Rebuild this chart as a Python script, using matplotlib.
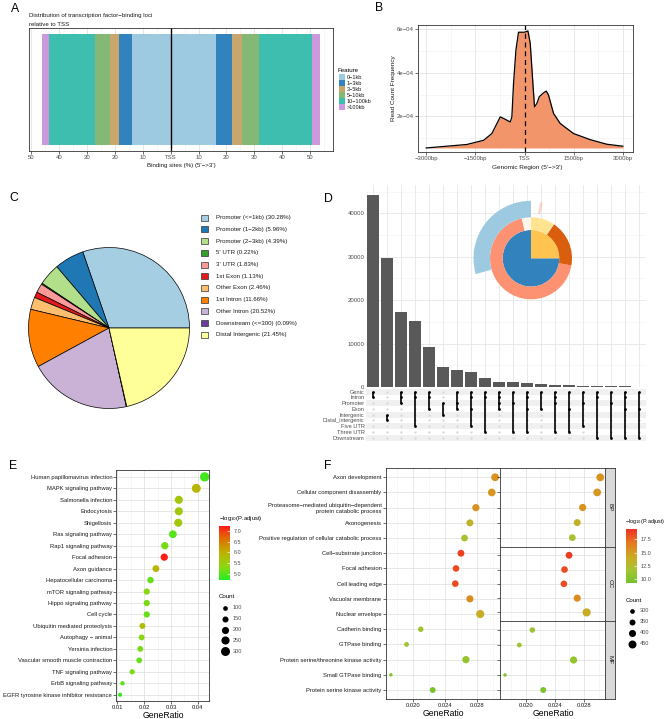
import numpy as np
import matplotlib
matplotlib.use('Agg')
import matplotlib.pyplot as plt
from matplotlib.patches import Rectangle, Wedge
from matplotlib.colors import LinearSegmentedColormap, Normalize
from matplotlib.cm import ScalarMappable

plt.rcParams['font.family'] = ['Liberation Sans', 'DejaVu Sans']

# ---------------- data ----------------
# A: distribution of binding loci relative to TSS (%)
feat_labels = ['0−1kb', '1−3kb', '3−5kb', '5−10kb', '10−100kb', '>100kb']
feat_colors = ['#9ECAE1', '#3182BD', '#C9A66B', '#86B875', '#3DBEAF', '#CC99DD']
upstream_pct = [13.8, 4.7, 3.1, 5.5, 16.5, 2.4]
downstream_pct = [16.2, 5.7, 3.5, 6.1, 19.0, 3.0]

# B: average profile around TSS
prof_bp = [-3000, -1757, -1250, -995, -842, -741, -640, -436, -386, -335, -262, -183,
           0, 104, 174, 256, 305, 378, 448, 580, 663, 732, 885, 1089, 1495, 2004, 2513, 3000]
prof_freq = [5.6e-5, 7.2e-5, 9.1e-5, 1.22e-4, 1.68e-4, 1.98e-4, 1.91e-4, 1.75e-4, 1.98e-4,
             3.51e-4, 5.04e-4, 5.85e-4, 5.85e-4, 5.91e-4, 5.35e-4, 3.51e-4, 2.44e-4, 2.6e-4,
             2.9e-4, 3.08e-4, 3.16e-4, 2.98e-4, 2.14e-4, 1.68e-4, 1.22e-4, 9.4e-5, 7.3e-5, 6.4e-5]

# C: genomic annotation pie
anno_labels = ['Promoter (<=1kb)', 'Promoter (1−2kb)', 'Promoter (2−3kb)', "5' UTR", "3' UTR",
               '1st Exon', 'Other Exon', '1st Intron', 'Other Intron', 'Downstream (<=300)',
               'Distal Intergenic']
anno_pct = [30.28, 5.96, 4.39, 0.22, 1.83, 1.13, 2.46, 11.66, 20.52, 0.09, 21.45]
anno_colors = ['#A6CEE3', '#1F78B4', '#B2DF8A', '#33A02C', '#FB9A99', '#E31A1C',
               '#FDBF6F', '#FF7F00', '#CAB2D6', '#6A3D9A', '#FFFF99']

# D: upset plot
set_rows = ['Genic', 'Intron', 'Promoter', 'Exon', 'Intergenic', 'Distal_intergenic',
            'Five UTR', 'Three UTR', 'Downstream']
set_sizes = [44300, 29650, 17350, 15280, 9150, 4680, 3920, 3460, 2050, 1220,
             1200, 850, 800, 460, 440, 230, 200, 180, 150, 100]
set_members = [[0, 1], [4, 5], [0, 1, 2], [0, 1, 6], [0, 1, 3], [2, 4], [0, 2, 3],
               [0, 1, 3, 6], [0, 1, 7], [0, 1, 2, 3], [0, 2, 7], [0, 1, 3, 7], [0, 3],
               [0, 1, 2, 7], [0, 3, 7], [0, 2, 6], [0, 1, 8], [0, 2, 8], [0, 1, 3, 8], [0, 3, 8]]
venn_labels = ['Genic', 'Intergenic', 'Intron', 'Exon', 'Upstream', 'Downstream', 'Distal Intergenic']
venn_colors = ['#3182BD', '#FEC44F', '#FC9272', '#9ECAE1', '#FEE391', '#FFF5EB', '#D95F0E']

# E: KEGG enrichment
kegg_terms = ['Human papillomavirus infection', 'MAPK signaling pathway', 'Salmonella infection',
              'Endocytosis', 'Shigellosis', 'Ras signaling pathway', 'Rap1 signaling pathway',
              'Focal adhesion', 'Axon guidance', 'Hepatocellular carcinoma', 'mTOR signaling pathway',
              'Hippo signaling pathway', 'Cell cycle', 'Ubiquitin mediated proteolysis',
              'Autophagy − animal', 'Yersinia infection', 'Vascular smooth muscle contraction',
              'TNF signaling pathway', 'ErbB signaling pathway',
              'EGFR tyrosine kinase inhibitor resistance']
kegg_ratio = [0.0425, 0.0394, 0.0329, 0.0329, 0.0327, 0.0307, 0.0277, 0.0275, 0.0244, 0.0224,
              0.0210, 0.0210, 0.0210, 0.0194, 0.0191, 0.0186, 0.0182, 0.0156, 0.0120, 0.0111]
kegg_count = [320, 295, 247, 247, 245, 230, 208, 206, 183, 168, 158, 158, 158, 146, 143, 140,
              137, 117, 90, 83]
kegg_logp = [4.9, 5.9, 5.6, 5.6, 5.6, 5.0, 5.2, 7.2, 5.9, 5.1, 5.3, 5.2, 5.1, 5.8, 5.3, 5.2,
             5.1, 5.2, 5.0, 4.8]

# F: GO enrichment
go_terms = ['Axon development', 'Cellular component disassembly',
            'Proteasome−mediated ubiquitin−dependent\nprotein catabolic process', 'Axonogenesis',
            'Positive regulation of cellular catabolic process', 'Cell−substrate junction',
            'Focal adhesion', 'Cell leading edge', 'Vacuolar membrane', 'Nuclear envelope',
            'Cadherin binding', 'GTPase binding', 'Protein serine/threonine kinase activity',
            'Small GTPase binding', 'Protein serine kinase activity']
go_ont = ['BP'] * 5 + ['CC'] * 5 + ['MF'] * 5
go_ratio = [0.03024, 0.02982, 0.02783, 0.02708, 0.02641, 0.02596, 0.02534, 0.02525, 0.02708,
            0.02837, 0.02092, 0.01914, 0.02658, 0.01718, 0.02242]
go_count = [440, 435, 410, 395, 385, 390, 380, 378, 405, 460, 330, 305, 410, 265, 345]
go_logp = [15.5, 15.2, 15.5, 13.5, 12.0, 19.0, 18.5, 18.5, 15.8, 14.0, 11.5, 11.5, 11.0, 10.0, 9.6]

# ---------------- figure ----------------
W, H = 669, 719
fig = plt.figure(figsize=(W / 100, H / 100), dpi=100)


def px_axes(x0, y0, x1, y1):
    return fig.add_axes([x0 / W, 1 - y1 / H, (x1 - x0) / W, (y1 - y0) / H])


ov = px_axes(0, 0, W, H)
ov.set_xlim(0, W)
ov.set_ylim(H, 0)
ov.axis('off')

TXT = '#4D4D4D'
FS = 4.3


def bw_style(ax, grid=True):
    for s in ax.spines.values():
        s.set_color('#333333')
        s.set_linewidth(0.6)
    ax.tick_params(which='both', length=2, width=0.5, color='#333333', labelsize=FS,
                   labelcolor=TXT, pad=1)
    ax.tick_params(which='minor', length=0)
    if grid:
        ax.grid(True, which='major', color='#E3E3E3', lw=0.6)
        ax.grid(True, which='minor', color='#F0F0F0', lw=0.4)
    ax.set_axisbelow(True)


for letter, x, y in [('A', 15, 9), ('B', 379, 8), ('C', 14, 198), ('D', 328, 199),
                     ('E', 13, 466), ('F', 328, 466)]:
    ov.text(x, y, letter, fontsize=8.8, ha='center', va='center')

# ---- A ----
axA = px_axes(29, 28, 333, 151)
bw_style(axA)
left_edge = 0.0
for lab, col, v in zip(feat_labels, feat_colors, upstream_pct):
    axA.barh(0, -v, left=-left_edge, height=0.9, color=col, lw=0)
    left_edge += v
left_edge = 0.0
for lab, col, v in zip(feat_labels, feat_colors, downstream_pct):
    axA.barh(0, v, left=left_edge, height=0.9, color=col, lw=0)
    left_edge += v
axA.axvline(0, color='black', lw=1.0)
axA.set_xlim(-50.8, 58.2)
axA.set_ylim(-0.5, 0.5)
axA.set_yticks([])
axA.set_xticks([-50, -40, -30, -20, -10, 0, 10, 20, 30, 40, 50])
axA.set_xticklabels(['50', '40', '30', '20', '10', 'TSS', '10', '20', '30', '40', '50'])
axA.set_xticks([-45, -35, -25, -15, -5, 5, 15, 25, 35, 45, 55], minor=True)
ov.text(29, 15, 'Distribution of transcription factor−binding loci', fontsize=4.4,
        va='center', color='#1A1A1A')
ov.text(29, 24, 'relative to TSS', fontsize=4.4, va='center', color='#1A1A1A')
ov.text(181, 166, "Binding sites (%) (5'−>3')", fontsize=4.4, ha='center', va='center',
        color='#1A1A1A')
ov.text(338, 71, 'Feature', fontsize=4.4, va='center')
for i, (lab, col) in enumerate(zip(feat_labels, feat_colors)):
    yy = 77.3 + 6 * i
    ov.add_patch(Rectangle((338.5, yy - 3), 6, 6, color=col, lw=0))
    ov.text(347, yy, lab, fontsize=4.0, va='center', color='#1A1A1A')

# ---- B ----
axB = px_axes(418, 25, 633, 152)
bw_style(axB)
base = min(prof_freq)
axB.fill_between(prof_bp, prof_freq, base, color='#F2956B', lw=0)
axB.plot(prof_bp, prof_freq, color='black', lw=0.9)
axB.axvline(0, color='black', lw=0.9, ls=(0, (4, 3)))
axB.set_xlim(-3250, 3310)
axB.set_ylim(3.76e-5, 6.18e-4)
axB.set_xticks([-3000, -1500, 0, 1500, 3000])
axB.set_xticklabels(['−3000bp', '−1500bp', 'TSS', '1500bp', '3000bp'])
axB.set_xticks([-2250, -750, 750, 2250], minor=True)
axB.set_yticks([2e-4, 4e-4, 6e-4])
axB.set_yticklabels(['2e−04', '4e−04', '6e−04'])
axB.set_yticks([1e-4, 3e-4, 5e-4], minor=True)
ov.text(393, 88, 'Read Count Frequency', fontsize=4.6, rotation=90, ha='center', va='center',
        color='#1A1A1A')
ov.text(527, 167, "Genomic Region (5'−>3')", fontsize=4.6, ha='center', va='center',
        color='#1A1A1A')

# ---- C ----
axC = px_axes(109 - 81.3, 328 - 81.3, 109 + 81.3, 328 + 81.3)
axC.pie(anno_pct, colors=anno_colors, startangle=0, counterclock=True,
        wedgeprops=dict(edgecolor='black', linewidth=0.5))
axC.set_xlim(-1.01, 1.01)
axC.set_ylim(-1.01, 1.01)
axC.set_aspect('equal')
axC.axis('off')
for i, (lab, col, p) in enumerate(zip(anno_labels, anno_colors, anno_pct)):
    yy = 217.7 + 11.7 * i
    ov.add_patch(Rectangle((200.5, yy - 3), 7.5, 6, facecolor=col, edgecolor='#333333', lw=0.5))
    ov.text(216, yy, f'{lab} ({p:.2f}%)', fontsize=4.4, va='center', color='#1A1A1A')

# ---- D ----
ncol = len(set_sizes)
cols = np.arange(ncol)
axD = px_axes(366, 185, 646, 387)
axD.bar(cols, set_sizes, width=0.88, color='#595959', lw=0)
axD.set_xlim(-0.5, ncol - 0.5)
axD.set_ylim(0, 46540)
axD.set_xticks(cols)
axD.set_xticklabels([])
axD.set_yticks([0, 10000, 20000, 30000, 40000])
axD.set_yticklabels(['0', '10000', '20000', '30000', '40000'])
axD.set_yticks([5000, 15000, 25000, 35000, 45000], minor=True)
for s in axD.spines.values():
    s.set_visible(False)
axD.tick_params(which='both', length=0, labelsize=FS, labelcolor=TXT, pad=1)
axD.grid(True, which='major', color='#E6E6E6', lw=0.6)
axD.grid(True, which='minor', axis='y', color='#F2F2F2', lw=0.4)
axD.set_axisbelow(True)

axM = px_axes(366, 388.8, 646, 440.6)
axM.set_xlim(-0.5, ncol - 0.5)
axM.set_ylim(len(set_rows) - 0.5, -0.5)
for r in range(0, len(set_rows), 2):
    axM.axhspan(r - 0.5, r + 0.5, color='#F0F0F0', lw=0)
gx, gy = np.meshgrid(cols, np.arange(len(set_rows)))
axM.scatter(gx.ravel(), gy.ravel(), s=3, color='#DADADA', lw=0)
for c, mem in enumerate(set_members):
    axM.plot([c, c], [min(mem), max(mem)], color='black', lw=1.2, solid_capstyle='butt')
    axM.scatter([c] * len(mem), mem, s=4, color='black', lw=0, zorder=3)
axM.set_yticks(range(len(set_rows)))
axM.set_yticklabels(set_rows)
axM.set_xticks([])
for s in axM.spines.values():
    s.set_visible(False)
axM.tick_params(length=0, labelsize=4.1, labelcolor=TXT, pad=1)

# vennpie inset
axV = px_axes(471, 198.3, 591, 318.3)
axV.set_xlim(-60, 60)
axV.set_ylim(-60, 60)
axV.set_aspect('equal')
axV.axis('off')
genic, intergenic, intron, exon, upstream, downstream, distal = venn_colors
axV.add_patch(Wedge((0, 0), 28.3, 90, 360, color=genic, lw=0))
axV.add_patch(Wedge((0, 0), 28.3, 0, 90, color=intergenic, lw=0))
axV.add_patch(Wedge((0, 0), 41, 103, 350, width=12.7, color=intron, lw=0))
axV.add_patch(Wedge((0, 0), 41, -10, 56, width=12.7, color=distal, lw=0))
axV.add_patch(Wedge((0, 0), 41, 56, 90, width=12.7, color=upstream, lw=0))
axV.add_patch(Wedge((0, 0), 41, 90, 103, width=12.7, color=downstream, lw=0))
axV.add_patch(Wedge((0, 0), 57.5, 90, 196, width=16.5, color=exon, lw=0))
axV.add_patch(Wedge((0, 0), 57, 78, 81, width=12, color=intron, alpha=0.35, lw=0))
for i, (lab, col) in enumerate(zip(venn_labels, venn_colors)):
    yy = 220 + 5.4 * i
    ov.add_patch(Rectangle((577, yy - 2), 4, 4, facecolor=col, edgecolor='#333333', lw=0.4))
    ov.text(584, yy, lab, fontsize=4.4, va='center', color='#1A1A1A')

# ---- E ----
cmapE = LinearSegmentedColormap.from_list('e', ['#22EE22', '#8FD611', '#BDB200', '#DD7200', '#FF1A1A'])
normE = Normalize(4.7, 7.25)


def size_e(c):
    return np.clip(0.153 * np.asarray(c, float) - 3.9, 2, None)


axE = px_axes(116.3, 470, 208.7, 701.3)
bw_style(axE)
axE.scatter(kegg_ratio, range(len(kegg_terms)), s=size_e(kegg_count), c=kegg_logp,
            cmap=cmapE, norm=normE, lw=0, zorder=3)
axE.set_xlim(0.0097, 0.0440)
axE.set_ylim(len(kegg_terms) - 0.43, -0.6)
axE.set_yticks(range(len(kegg_terms)))
axE.set_yticklabels(kegg_terms)
axE.set_xticks([0.01, 0.02, 0.03, 0.04])
axE.set_xticklabels(['0.01', '0.02', '0.03', '0.04'])
axE.set_xticks([0.015, 0.025, 0.035], minor=True)
axE.tick_params(labelcolor='#1A1A1A', labelsize=4.2)
ov.text(163, 715, 'GeneRatio', fontsize=6.2, ha='center', va='center')

caxE = px_axes(219.3, 525.7, 230, 580)
cbE = fig.colorbar(ScalarMappable(norm=normE, cmap=cmapE), cax=caxE)
cbE.outline.set_visible(False)
cbE.set_ticks([5.0, 5.5, 6.0, 6.5, 7.0])
cbE.set_ticklabels(['5.0', '5.5', '6.0', '6.5', '7.0'])
caxE.tick_params(length=2, color='white', width=0.5, direction='in', labelsize=4.0,
                 labelcolor=TXT, pad=2.5)
ov.text(219, 518.3, '−log$_{10}$(P.adjust)', fontsize=4.2, va='center')
ov.text(219, 597, 'Count', fontsize=4.4, va='center')
leg_e = [100, 150, 200, 250, 300]
for i, c in enumerate(leg_e):
    yy = 607.7 + 10.9 * i
    ov.scatter([224.5], [yy], s=size_e([c]), color='black', lw=0)
    ov.text(233, yy, str(c), fontsize=4.0, va='center', color=TXT)

# ---- F ----
cmapF = LinearSegmentedColormap.from_list('f', ['#72C22E', '#A6C331', '#CDA822', '#E4781E', '#EE3322'])
normF = Normalize(9.25, 19.4)


def size_f(c):
    return np.clip(0.145 * np.asarray(c, float) - 32.2, 2, None)


xlimF = (0.01653, 0.03089)


def go_xaxis(ax):
    ax.set_xlim(*xlimF)
    ax.set_xticks([0.020, 0.024, 0.028])
    ax.set_xticklabels(['0.020', '0.024', '0.028'])
    ax.set_xticks([0.018, 0.022, 0.026, 0.030], minor=True)


axF = px_axes(385.7, 468.3, 500.3, 699)
bw_style(axF)
axF.scatter(go_ratio, range(len(go_terms)), s=size_f(go_count), c=go_logp, cmap=cmapF,
            norm=normF, lw=0, zorder=3)
axF.set_ylim(len(go_terms) - 0.41, -0.59)
axF.set_yticks(range(len(go_terms)))
axF.set_yticklabels(go_terms)
go_xaxis(axF)
axF.tick_params(labelcolor='#1A1A1A', labelsize=4.2)
ov.text(443, 713, 'GeneRatio', fontsize=6.2, ha='center', va='center')

facet_px = {'BP': (468.3, 546.7), 'CC': (546.7, 621), 'MF': (621, 699)}
for ont, (y0, y1) in facet_px.items():
    idx = [i for i, o in enumerate(go_ont) if o == ont]
    ax = px_axes(500.3, y0, 605, y1)
    bw_style(ax)
    ax.scatter([go_ratio[i] for i in idx], range(len(idx)), s=size_f([go_count[i] for i in idx]),
               c=[go_logp[i] for i in idx], cmap=cmapF, norm=normF, lw=0, zorder=3)
    ax.set_ylim(len(idx) - 0.4, -0.6)
    ax.set_yticks(range(len(idx)))
    ax.set_yticklabels([])
    go_xaxis(ax)
    if ont != 'MF':
        ax.tick_params(axis='x', length=0, labelbottom=False)
    else:
        ax.tick_params(labelcolor='#1A1A1A', labelsize=4.2)
    sx = px_axes(605, y0, 615.3, y1)
    sx.set_facecolor('#D9D9D9')
    for s in sx.spines.values():
        s.set_color('#333333')
        s.set_linewidth(0.6)
    sx.set_xticks([])
    sx.set_yticks([])
    sx.text(0.5, 0.5, ont, rotation=270, fontsize=4.6, ha='center', va='center',
            transform=sx.transAxes, color='#1A1A1A')
ov.text(553, 713, 'GeneRatio', fontsize=6.2, ha='center', va='center')

caxF = px_axes(626, 529.3, 636.7, 583.3)
cbF = fig.colorbar(ScalarMappable(norm=normF, cmap=cmapF), cax=caxF)
cbF.outline.set_visible(False)
cbF.set_ticks([10.0, 12.5, 15.0, 17.5])
cbF.set_ticklabels(['10.0', '12.5', '15.0', '17.5'])
caxF.tick_params(length=2, color='white', width=0.5, direction='in', labelsize=4.0,
                 labelcolor=TXT, pad=2.5)
ov.text(625, 521.7, '−log$_{10}$(P.adjust)', fontsize=3.9, va='center')
ov.text(626, 600, 'Count', fontsize=4.4, va='center')
leg_f = [300, 350, 400, 450]
for i, c in enumerate(leg_f):
    yy = 611 + 10.9 * i
    ov.scatter([631.7], [yy], s=size_f([c]), color='black', lw=0)
    ov.text(640, yy, str(c), fontsize=4.0, va='center', color=TXT)

fig.savefig('out.png', dpi=100)
